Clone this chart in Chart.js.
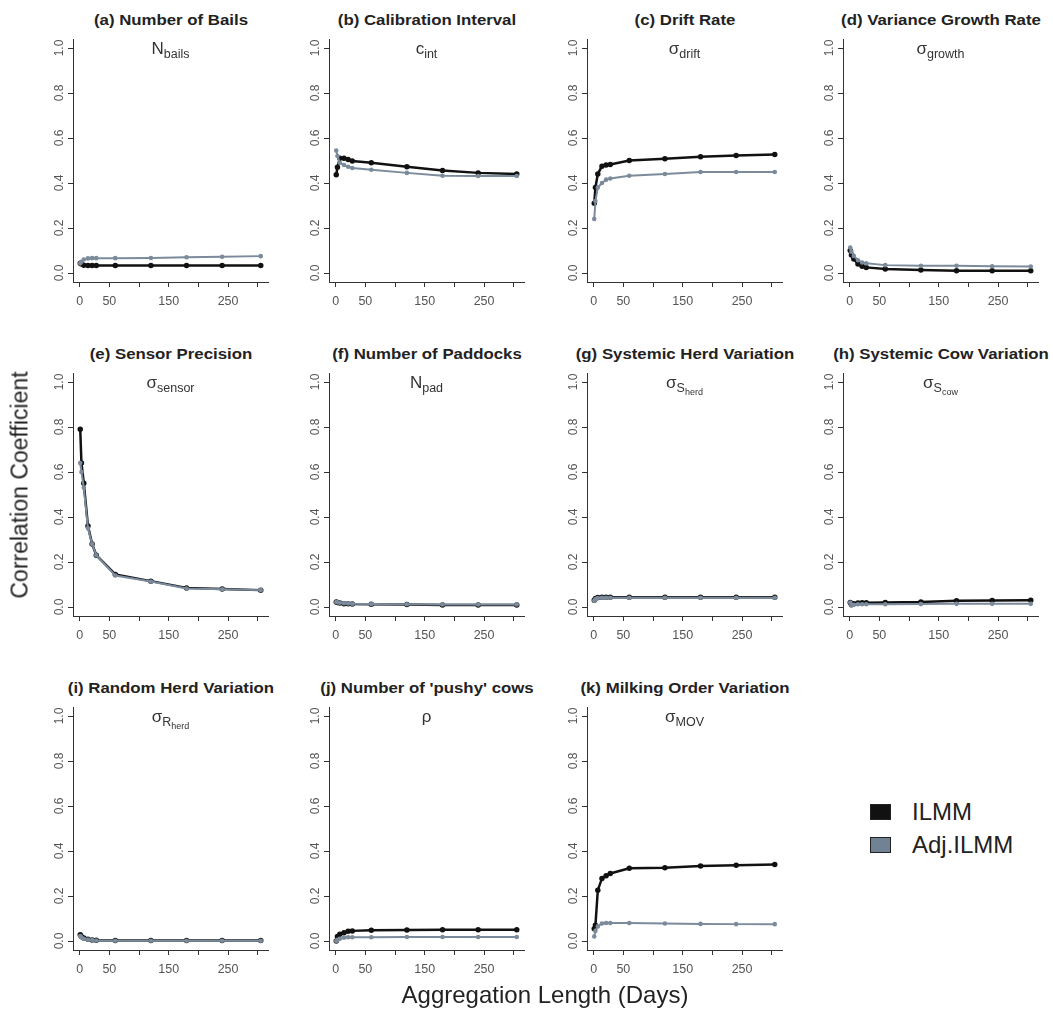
<!DOCTYPE html>
<html><head><meta charset="utf-8">
<script src="https://cdn.jsdelivr.net/npm/chart.js@4.4.1/dist/chart.umd.min.js"></script>
<style>
body{margin:0;background:#fff;width:1053px;height:1013px;position:relative;overflow:hidden;font-family:"Liberation Sans",Arial,sans-serif;}
canvas{position:absolute;}
.ttl{position:absolute;font-weight:bold;font-size:14px;color:#222;text-align:center;width:260px;white-space:nowrap;line-height:16px;transform:scaleX(1.2);}
.sym{position:absolute;font-size:17px;color:#333;text-align:center;width:200px;white-space:nowrap;line-height:18px;}
.sym sub{font-size:12.5px;vertical-align:-4px;line-height:0;}
.sym sub sub{font-size:9px;vertical-align:-3px;}
.axt{position:absolute;color:#222;white-space:nowrap;}
.leg{position:absolute;font-size:24px;color:#222;white-space:nowrap;line-height:26px;}
.box{position:absolute;width:19px;height:14px;border:1px solid #222;}
</style></head><body>
<div id="root"></div>
<script>
// ---- data ----
const aggDays = [1, 3, 7, 14, 21, 28, 60, 120, 180, 240, 305];
const xTickValues = [0, 50, 100, 150, 200, 250, 300];
const xTickLabels = ['0', '50', '', '150', '', '250', ''];
const yTickValues = [0, 0.2, 0.4, 0.6, 0.8, 1.0];
const seriesNames = ['ILMM', 'Adj.ILMM'];
const panelTitles = ['(a) Number of Bails', '(b) Calibration Interval', '(c) Drift Rate', '(d) Variance Growth Rate',
  '(e) Sensor Precision', '(f) Number of Paddocks', '(g) Systemic Herd Variation', '(h) Systemic Cow Variation',
  '(i) Random Herd Variation', "(j) Number of 'pushy' cows", '(k) Milking Order Variation'];
const panelSymbols = ['N<sub>bails</sub>', 'c<sub>int</sub>', 'σ<sub>drift</sub>', 'σ<sub>growth</sub>',
  'σ<sub>sensor</sub>', 'N<sub>pad</sub>', 'σ<sub>S<sub>herd</sub></sub>', 'σ<sub>S<sub>cow</sub></sub>',
  'σ<sub>R<sub>herd</sub></sub>', 'ρ', 'σ<sub>MOV</sub>'];

const ilmm_a = [0.043, 0.040, 0.035, 0.033, 0.033, 0.033, 0.033, 0.033, 0.033, 0.033, 0.033];
const adj_a  = [0.043, 0.050, 0.060, 0.065, 0.066, 0.066, 0.066, 0.067, 0.070, 0.072, 0.075];
const ilmm_b = [0.437, 0.470, 0.510, 0.510, 0.505, 0.498, 0.490, 0.472, 0.456, 0.445, 0.440];
const adj_b  = [0.544, 0.520, 0.490, 0.480, 0.472, 0.467, 0.459, 0.445, 0.432, 0.431, 0.431];
const ilmm_c = [0.310, 0.380, 0.440, 0.475, 0.480, 0.482, 0.500, 0.508, 0.517, 0.522, 0.527];
const adj_c  = [0.240, 0.320, 0.380, 0.400, 0.415, 0.420, 0.432, 0.440, 0.449, 0.449, 0.449];
const ilmm_d = [0.100, 0.080, 0.062, 0.040, 0.030, 0.025, 0.018, 0.013, 0.010, 0.010, 0.010];
const adj_d  = [0.113, 0.095, 0.076, 0.057, 0.047, 0.043, 0.035, 0.032, 0.032, 0.030, 0.029];
const ilmm_e = [0.790, 0.640, 0.550, 0.360, 0.280, 0.230, 0.145, 0.115, 0.085, 0.080, 0.075];
const adj_e  = [0.640, 0.600, 0.530, 0.350, 0.280, 0.230, 0.140, 0.113, 0.082, 0.079, 0.075];
const ilmm_f = [0.022, 0.020, 0.018, 0.015, 0.014, 0.013, 0.012, 0.011, 0.009, 0.009, 0.009];
const adj_f  = [0.022, 0.021, 0.019, 0.017, 0.016, 0.014, 0.013, 0.012, 0.011, 0.011, 0.011];
const ilmm_g = [0.030, 0.038, 0.042, 0.043, 0.043, 0.043, 0.043, 0.043, 0.043, 0.043, 0.043];
const adj_g  = [0.028, 0.035, 0.040, 0.041, 0.041, 0.041, 0.041, 0.041, 0.041, 0.041, 0.041];
const ilmm_h = [0.020, 0.010, 0.015, 0.018, 0.019, 0.019, 0.020, 0.022, 0.028, 0.029, 0.030];
const adj_h  = [0.020, 0.008, 0.010, 0.012, 0.012, 0.012, 0.012, 0.013, 0.014, 0.014, 0.014];
const ilmm_i = [0.028, 0.020, 0.013, 0.008, 0.005, 0.003, 0.002, 0.002, 0.002, 0.002, 0.002];
const adj_i  = [0.022, 0.016, 0.010, 0.006, 0.004, 0.002, 0.001, 0.001, 0.001, 0.001, 0.001];
const ilmm_j = [0.000, 0.020, 0.030, 0.037, 0.043, 0.045, 0.048, 0.049, 0.050, 0.050, 0.050];
const adj_j  = [0.000, 0.005, 0.010, 0.015, 0.017, 0.017, 0.017, 0.018, 0.018, 0.018, 0.018];
const ilmm_k = [0.055, 0.070, 0.226, 0.278, 0.290, 0.300, 0.323, 0.326, 0.333, 0.337, 0.340];
const adj_k  = [0.020, 0.045, 0.065, 0.078, 0.080, 0.080, 0.080, 0.078, 0.076, 0.075, 0.075];

const ilmmSeries = [ilmm_a, ilmm_b, ilmm_c, ilmm_d, ilmm_e, ilmm_f, ilmm_g, ilmm_h, ilmm_i, ilmm_j, ilmm_k];
const adjSeries  = [adj_a, adj_b, adj_c, adj_d, adj_e, adj_f, adj_g, adj_h, adj_i, adj_j, adj_k];

// ---- layout ----
const FONT = '"Liberation Sans", Arial, sans-serif';
Chart.defaults.font.family = FONT;
const colAxisX = [73, 329, 587, 843];
const rowTop = [39, 373, 707];
const LW = 45, BH = 32, PT = 10, PR = 10, AW = 195, AH = 243;
const BLACK = '#111111', GREY = '#7b8b9c';
const root = document.getElementById('root');

function addDiv(cls, html, css) {
  const d = document.createElement('div');
  d.className = cls; d.innerHTML = html;
  Object.assign(d.style, css);
  root.appendChild(d);
  return d;
}

panelTitles.forEach((title, idx) => {
  const col = idx % 4, row = Math.floor(idx / 4);
  const cv = document.createElement('canvas');
  cv.width = LW + AW + PR; cv.height = PT + AH + BH;
  cv.style.left = (colAxisX[col] - LW) + 'px';
  cv.style.top = (rowTop[row] - PT) + 'px';
  root.appendChild(cv);
  const cx = colAxisX[col] + AW / 2;
  const y1 = rowTop[row] + 9;
  addDiv('ttl', title, {left: (cx - 130) + 'px', top: (y1 - 36) + 'px'});
  addDiv('sym', panelSymbols[idx], {left: (cx - 100) + 'px', top: (y1 - 8) + 'px'});

  const mk = arr => aggDays.map((x, i) => ({x: x, y: arr[i]}));
  new Chart(cv, {
    type: 'line',
    data: {datasets: [
      {label: seriesNames[1], data: mk(adjSeries[idx]), borderColor: GREY, backgroundColor: GREY,
       borderWidth: 2, pointRadius: 1.3, pointHoverRadius: 0, tension: 0, order: 0},
      {label: seriesNames[0], data: mk(ilmmSeries[idx]), borderColor: BLACK, backgroundColor: BLACK,
       borderWidth: 2.5, pointRadius: 1.5, pointHoverRadius: 0, tension: 0, order: 1}
    ]},
    options: {
      responsive: false, animation: false, devicePixelRatio: 1,
      layout: {padding: {top: PT, right: PR, left: 0, bottom: 0}},
      plugins: {legend: {display: false}, tooltip: {enabled: false}, title: {display: false}},
      scales: {
        x: {type: 'linear', min: -11.2, max: 317.2,
          afterFit: s => { s.height = BH; },
          grid: {display: true, drawOnChartArea: false, drawTicks: true, tickLength: 5, color: '#333', lineWidth: 1},
          border: {display: true, color: '#333', width: 1},
          ticks: {stepSize: 50, includeBounds: false, autoSkip: false, maxRotation: 0, minRotation: 0,
            padding: 7, color: '#555', font: {size: 12.5},
            callback: v => { const k = xTickValues.indexOf(Math.round(v)); return k >= 0 ? xTickLabels[k] : ''; }}
        },
        y: {type: 'linear', min: -0.04, max: 1.04,
          afterFit: s => { s.width = LW; },
          grid: {display: true, drawOnChartArea: false, drawTicks: true, tickLength: 5, color: '#333', lineWidth: 1},
          border: {display: true, color: '#333', width: 1},
          ticks: {stepSize: 0.2, includeBounds: false, autoSkip: false, minRotation: 90, maxRotation: 90,
            crossAlign: 'center', padding: 0, color: '#555', font: {size: 12},
            callback: v => yTickValues.some(t => Math.abs(t - v) < 1e-6) ? v.toFixed(1) : ''}
        }
      }
    }
  });
});

// axis titles
addDiv('axt', 'Correlation Coefficient', {left: '20px', top: '485px', fontSize: '23px', transform: 'translate(-50%,-50%) rotate(-90deg)'});
addDiv('axt', 'Aggregation Length (Days)', {left: '545px', top: '995px', fontSize: '24px', transform: 'translate(-50%,-50%)'});

// legend
const legendColors = [BLACK, '#708294'];
seriesNames.forEach((name, i) => {
  const cy = 812 + i * 33;
  addDiv('box', '', {left: '870px', top: (cy - 8) + 'px', background: legendColors[i]});
  addDiv('leg', name, {left: '912px', top: (cy - 13) + 'px'});
});
</script>
</body></html>
